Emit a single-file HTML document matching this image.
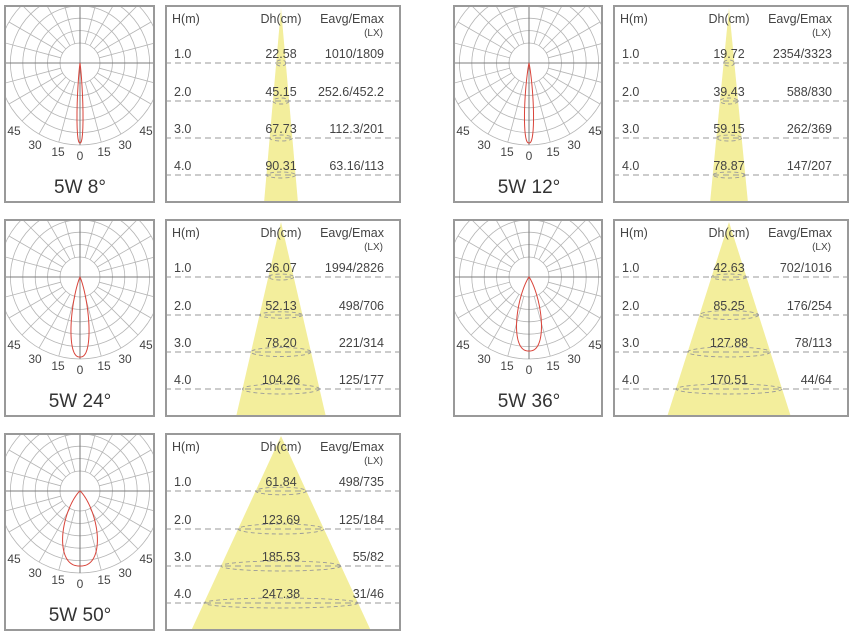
<!DOCTYPE html>
<html><head><meta charset="utf-8"><style>
html,body{margin:0;padding:0;background:#fff;}
svg{display:block;font-family:"Liberation Sans",sans-serif;}
</style></head><body>
<svg id="s" width="855" height="638" xmlns="http://www.w3.org/2000/svg"></svg>
<script>
const P=[
 {px:4,tx:165,y:5,title:"5W 8°",a:8,R:80,hw:17,rows:[["1.0","22.58","1010/1809"],["2.0","45.15","252.6/452.2"],["3.0","67.73","112.3/201"],["4.0","90.31","63.16/113"]]},
 {px:453,tx:613,y:5,title:"5W 12°",a:12,R:80,hw:19,rows:[["1.0","19.72","2354/3323"],["2.0","39.43","588/830"],["3.0","59.15","262/369"],["4.0","78.87","147/207"]]},
 {px:4,tx:165,y:219,title:"5W 24°",a:24,R:80,hw:45,rows:[["1.0","26.07","1994/2826"],["2.0","52.13","498/706"],["3.0","78.20","221/314"],["4.0","104.26","125/177"]]},
 {px:453,tx:613,y:219,title:"5W 36°",a:36,R:74,hw:62,rows:[["1.0","42.63","702/1016"],["2.0","85.25","176/254"],["3.0","127.88","78/113"],["4.0","170.51","44/64"]]},
 {px:4,tx:165,y:433,title:"5W 50°",a:50,R:75,hw:90,rows:[["1.0","61.84","498/735"],["2.0","123.69","125/184"],["3.0","185.53","55/82"],["4.0","247.38","31/46"]]}
];
let h="";const H=198;
P.forEach((p,i)=>{
 const cx=p.px+76,cy=p.y+58,W=p.px===4?151:150;
 h+=`<clipPath id="c${i}"><rect x="${p.px}" y="${p.y}" width="${W}" height="${H}"/></clipPath><g clip-path="url(#c${i})" stroke="#b5b5b5" stroke-width="0.8" fill="none">`;
 [20,32.4,44.8,57.2,69.6,82].forEach(r=>h+=`<circle cx="${cx}" cy="${cy}" r="${r}"/>`);
 for(let d=0;d<360;d+=15){const t=d*Math.PI/180;h+=`<line x1="${cx+20*Math.cos(t)}" y1="${cy+20*Math.sin(t)}" x2="${cx+82*Math.cos(t)}" y2="${cy+82*Math.sin(t)}"/>`;}
 h+=`<line x1="${p.px}" y1="${cy}" x2="${p.px+W}" y2="${cy}" stroke="#666"/><line x1="${cx}" y1="${p.y}" x2="${cx}" y2="${cy+82}" stroke="#666"/>`;
 const s=(p.a/2)*Math.PI/180;let pts=[];
 for(let d=-90;d<=90;d+=0.5){const t=d*Math.PI/180;const r=p.R*Math.exp(-Math.pow(Math.abs(t/s),2.6)*Math.LN2);pts.push((cx+r*Math.sin(t)).toFixed(2)+","+(cy+r*Math.cos(t)).toFixed(2));}
 h+=`<polyline points="${pts.join(" ")}" stroke="#d9443a" stroke-width="1"/></g>`;
 h+=`<rect x="${p.px+1}" y="${p.y+1}" width="${W-2}" height="${H-2}" fill="none" stroke="#999" stroke-width="2"/>`;
 const L=[["45",cx-66,cy+72],["30",cx-45,cy+86],["15",cx-22,cy+93],["0",cx,cy+97],["15",cx+24,cy+93],["30",cx+45,cy+86],["45",cx+66,cy+72]];
 L.forEach(l=>h+=`<text x="${l[1]}" y="${l[2]}" font-size="12" fill="#444" text-anchor="middle">${l[0]}</text>`);
 h+=`<text x="${cx}" y="${p.y+188}" font-size="19" fill="#333" text-anchor="middle">${p.title}</text>`;
 const tx=p.tx,tw=236,ccx=tx+116,ay=p.y+3,by=p.y+H,k=p.hw/(by-ay);
 h+=`<clipPath id="t${i}"><rect x="${tx}" y="${p.y}" width="${tw}" height="${H}"/></clipPath><g clip-path="url(#t${i})">`;
 h+=`<polygon points="${ccx},${ay} ${ccx+p.hw},${by} ${ccx-p.hw},${by}" fill="#f3ee9c"/>`;
 const ly=[58,96,133,170];
 ly.forEach(o=>{const yy=p.y+o;const w=k*(yy-ay);
  h+=`<line x1="${tx}" y1="${yy}" x2="${tx+tw}" y2="${yy}" stroke="#999" stroke-width="1" stroke-dasharray="6,4"/>`;
  h+=`<ellipse cx="${ccx}" cy="${yy}" rx="${w}" ry="${Math.max(3,Math.min(5,w*0.15))}" fill="none" stroke="#999" stroke-width="0.9" stroke-dasharray="4,3"/>`;});
 h+=`</g><rect x="${tx+1}" y="${p.y+1}" width="${tw-2}" height="${H-2}" fill="none" stroke="#999" stroke-width="2"/>`;
 const T=(x,y,t,a,fs)=>h+=`<text x="${x}" y="${y}" font-size="${fs||12.5}" fill="#444" text-anchor="${a}">${t}</text>`;
 T(tx+7,p.y+18,"H(m)","start");T(ccx,p.y+18,"Dh(cm)","middle");T(tx+tw-17,p.y+18,"Eavg/Emax","end");T(tx+tw-18,p.y+31,"(LX)","end",10);
 p.rows.forEach((r,j)=>{const yy=p.y+ly[j]-5;T(tx+9,yy,r[0],"start");T(ccx,yy,r[1],"middle");T(tx+tw-17,yy,r[2],"end");});
});
document.getElementById("s").innerHTML=h;
</script>
</body></html>
